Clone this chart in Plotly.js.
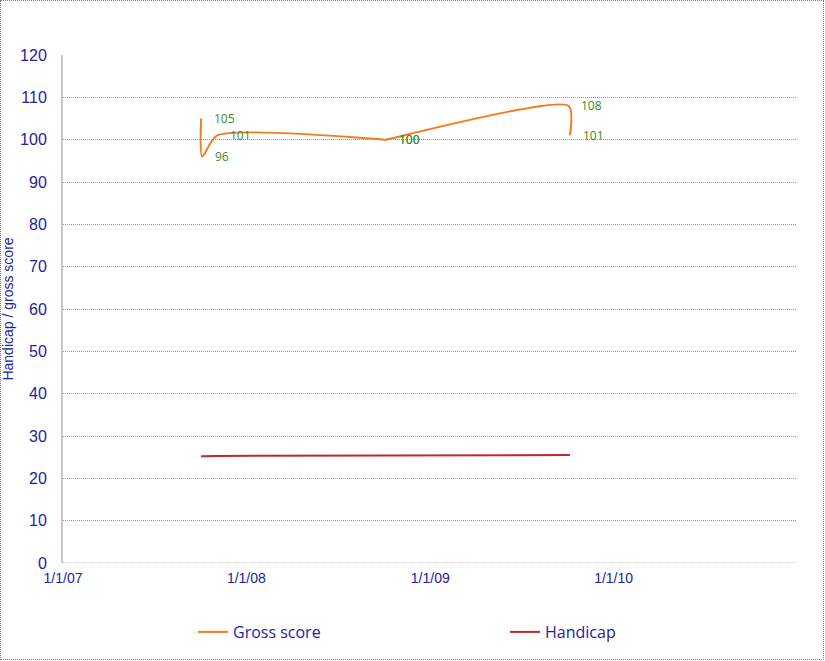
<!DOCTYPE html>
<html>
<head>
<meta charset="utf-8">
<script src="https://cdn.plot.ly/plotly-3.0.1.min.js"></script>
<style>
  html, body { margin: 0; padding: 0; background: #fff; }
  #chart { width: 825px; height: 661px; position: absolute; left: 0; top: 0; }
  #frame { position: absolute; left: 0; top: 0; width: 822px; height: 658px;
           border: 1.5px dotted #777; pointer-events: none; }
</style>
</head>
<body>
<div id="chart"></div>
<div id="frame"></div>
<script>
// ---- data ----
const roundDates = ['2007-10-03', '2007-10-05', '2007-11-04', '2008-10-04', '2008-10-05', '2009-10-03', '2009-10-06'];
const grossScore = [105, 96, 101, 100, 100, 108, 101];
const handicap   = [25.1, 25.2, 25.3, 25.3, 25.4, 25.5, 25.5];
const grossLabels = grossScore.map(String);

const xTickVals  = ['2007-01-01', '2008-01-01', '2009-01-01', '2010-01-01'];
const xTickText  = ['1/1/07', '1/1/08', '1/1/09', '1/1/10'];
const xRange     = ['2007-01-01', '2011-01-01'];
const yTickVals  = [0, 10, 20, 30, 40, 50, 60, 70, 80, 90, 100, 110, 120];

const blue = '#2222a2';
const green = '#3a8a2e';

const traces = [
  {
    name: 'Gross score',
    x: roundDates, y: grossScore,
    mode: 'lines',
    line: { color: '#f47b20', width: 2, shape: 'spline', smoothing: 0.7 },
    legend: 'legend'
  },
  {
    name: 'Handicap',
    x: roundDates, y: handicap,
    mode: 'lines',
    line: { color: '#c0282d', width: 2 },
    legend: 'legend2'
  }
];

const labelAnnotations = roundDates.map((d, i) => ({
  x: d, y: grossScore[i], xref: 'x', yref: 'y',
  text: grossLabels[i],
  showarrow: false,
  xanchor: 'left', yanchor: 'middle',
  xshift: 11,
  font: { family: 'Open Sans, sans-serif', size: 12, color: green }
}));

const legendFont = { family: 'Open Sans, sans-serif', size: 16, color: blue };
const legendY = (563 - 632) / 508;

const layout = {
  width: 825, height: 661,
  margin: { l: 63, r: 28, t: 55, b: 98 },
  paper_bgcolor: '#fff', plot_bgcolor: '#fff',
  showlegend: true,
  legend: {
    x: (193 - 63) / 734, xanchor: 'left',
    y: legendY, yanchor: 'middle',
    font: legendFont, itemwidth: 30, bgcolor: 'rgba(0,0,0,0)'
  },
  legend2: {
    x: (505 - 63) / 734, xanchor: 'left',
    y: legendY, yanchor: 'middle',
    font: legendFont, itemwidth: 30, bgcolor: 'rgba(0,0,0,0)'
  },
  annotations: labelAnnotations,
  shapes: [{
    type: 'line', xref: 'paper', yref: 'y', x0: 0, x1: 1, y0: 0, y1: 0,
    line: { color: '#9a9a9a', width: 1, dash: '1px,1px' }, layer: 'below'
  }],
  xaxis: {
    type: 'date',
    range: xRange,
    tickvals: xTickVals,
    ticktext: xTickText,
    tickfont: { family: 'Liberation Sans, Arial, sans-serif', size: 14, color: blue },
    showgrid: false,
    zeroline: false,
    showline: false,
    ticks: '',
    ticklabelstandoff: 5
  },
  yaxis: {
    range: [0, 120],
    tickvals: yTickVals,
    tickfont: { family: 'Liberation Sans, Arial, sans-serif', size: 16, color: blue },
    showgrid: true,
    gridcolor: '#9a9a9a',
    griddash: '1px,1px',
    gridwidth: 1,
    zeroline: false,
    showline: true,
    linecolor: '#c8c8c8',
    linewidth: 2,
    ticks: '',
    ticklabelstandoff: 11,
    title: { text: 'Handicap / gross score', standoff: 8,
             font: { family: 'Liberation Sans, Arial, sans-serif', size: 14, color: blue } }
  }
};

Plotly.newPlot('chart', traces, layout, { displayModeBar: false, staticPlot: true });
</script>
</body>
</html>
